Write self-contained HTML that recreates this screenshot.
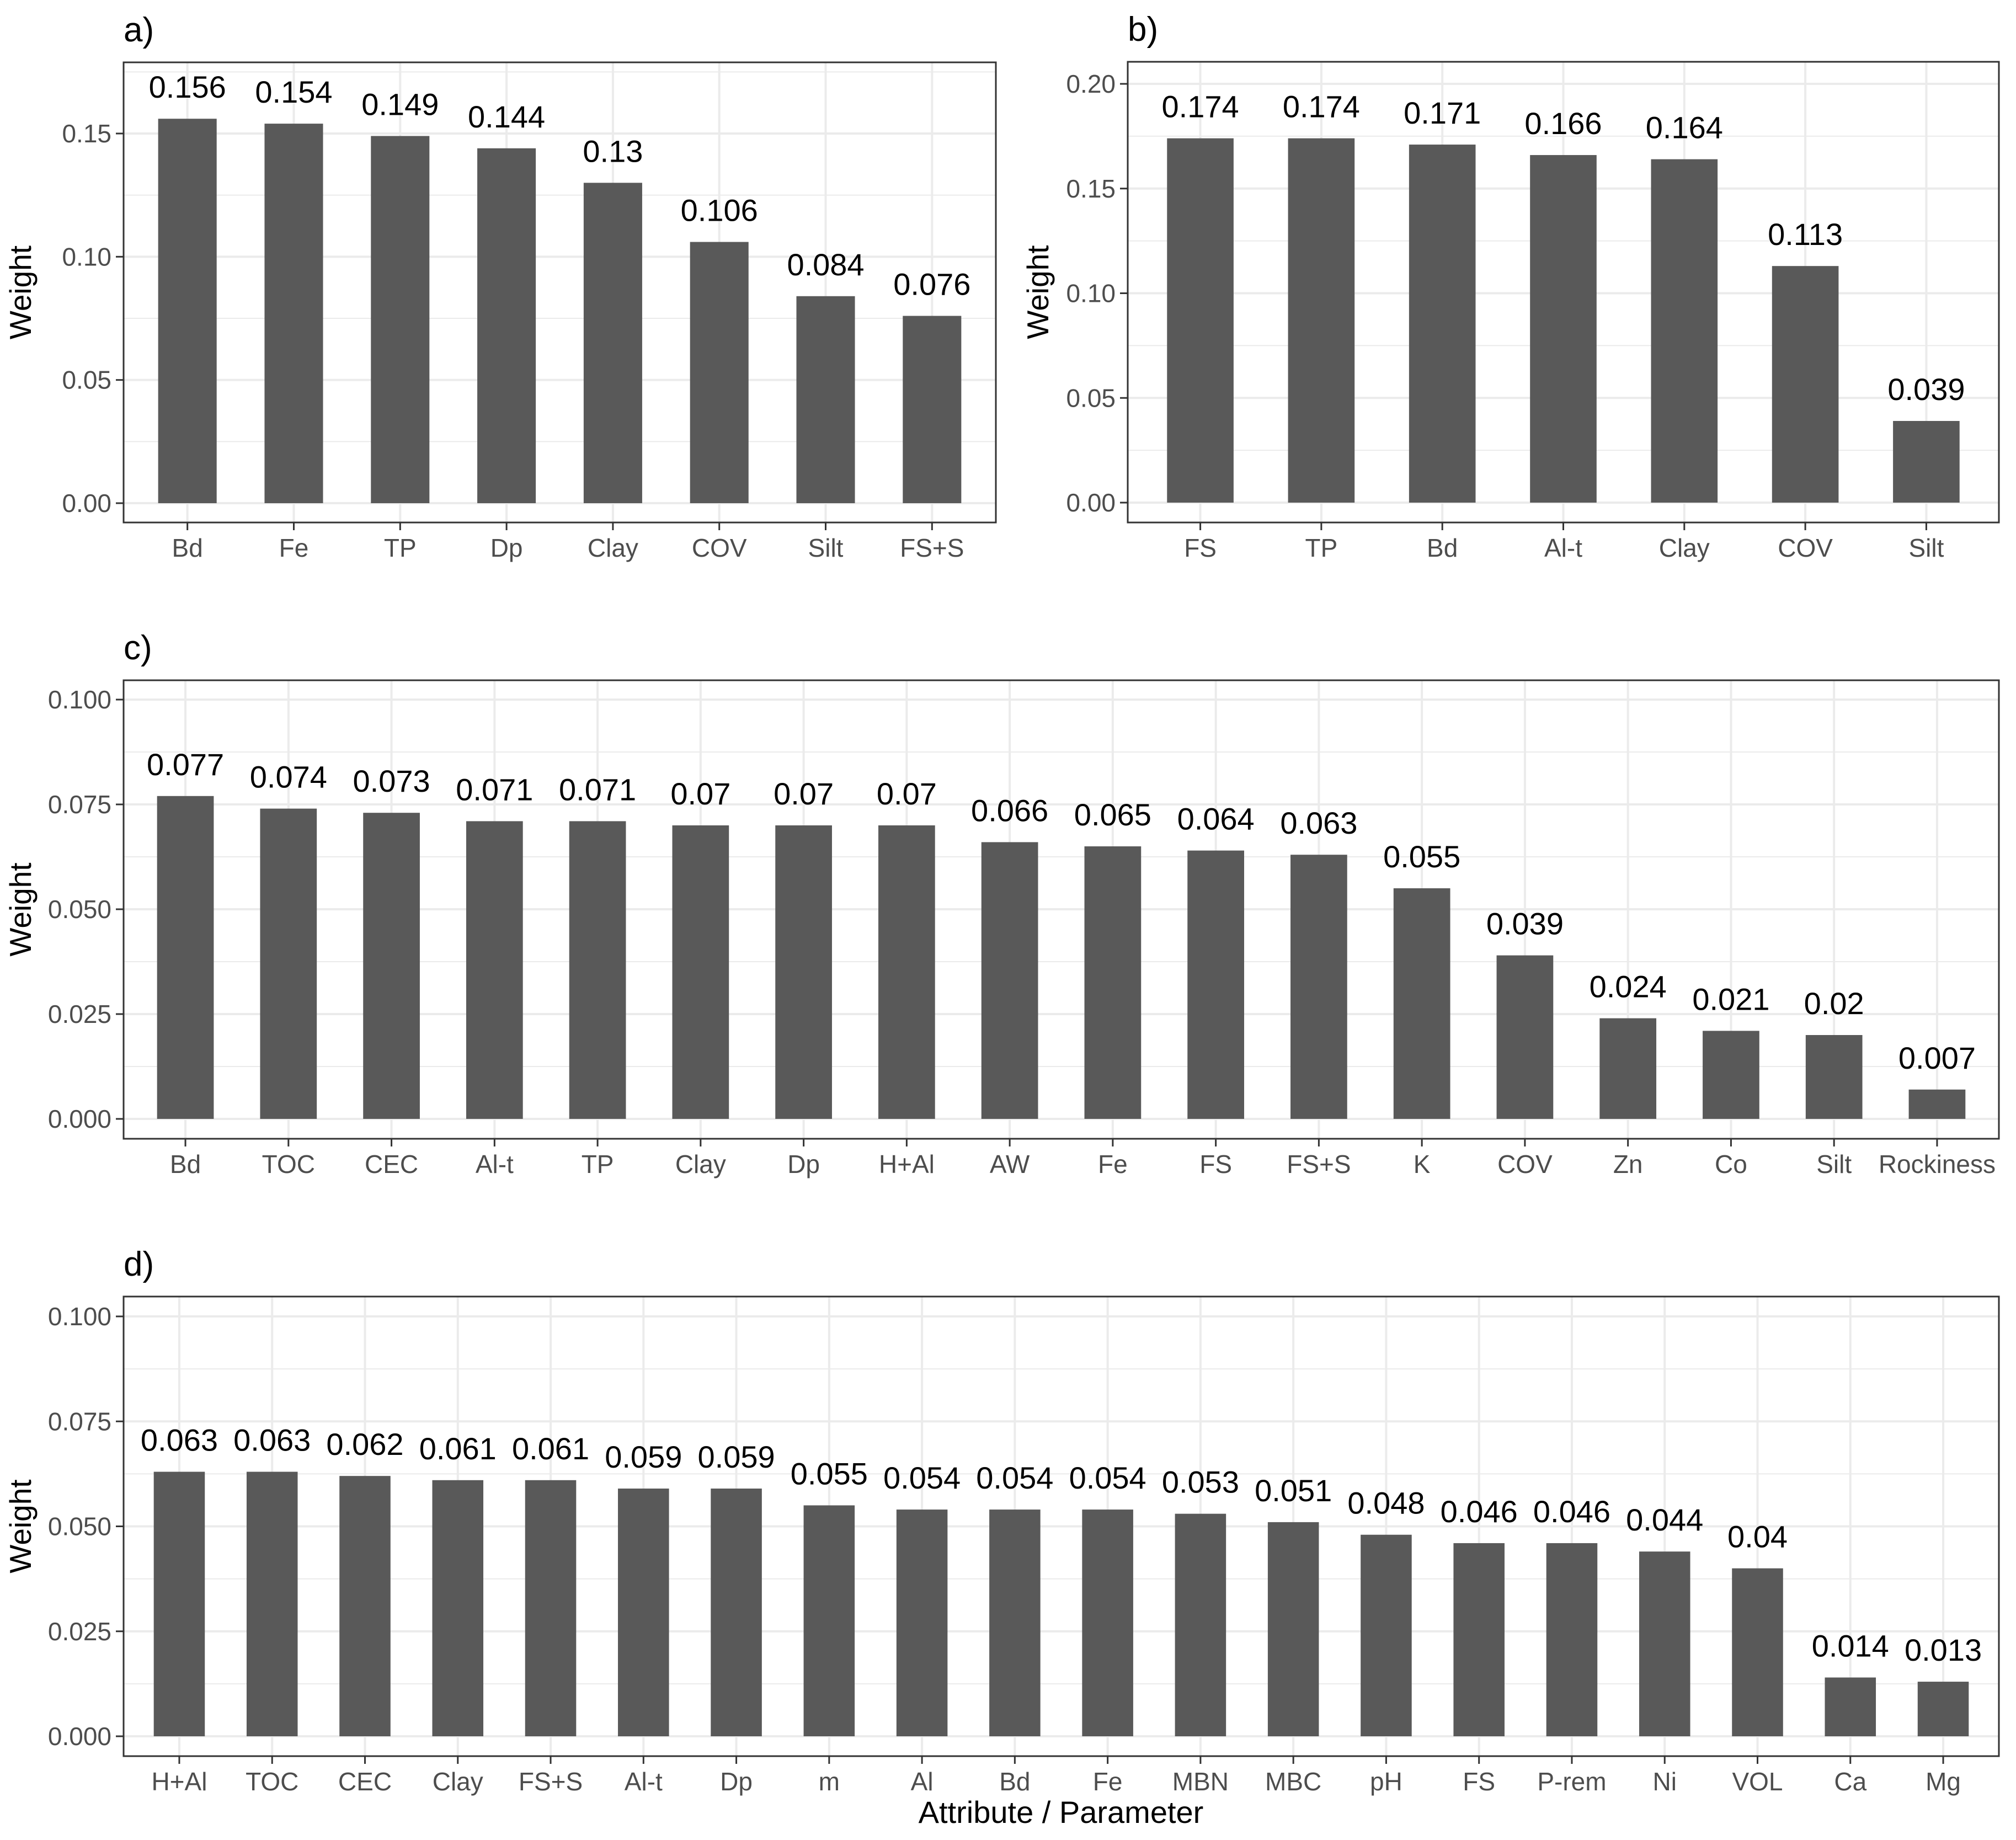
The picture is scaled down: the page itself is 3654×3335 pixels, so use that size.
<!DOCTYPE html>
<html><head><meta charset="utf-8"><style>
html,body{margin:0;padding:0;background:#fff;}
svg{display:block;font-family:"Liberation Sans",Arial,sans-serif;}
</style></head><body>
<svg id="fig" width="3654" height="3335" viewBox="0 0 3654 3335" xmlns="http://www.w3.org/2000/svg">
<rect width="3654" height="3335" fill="#fff"/>
<text x="1923" y="3304" font-size="56" text-anchor="middle" fill="#000">Attribute / Parameter</text>
</svg>
<script>
const catsA = ["Bd","Fe","TP","Dp","Clay","COV","Silt","FS+S"];
const valsA = [0.156,0.154,0.149,0.144,0.13,0.106,0.084,0.076];
const labsA = ["0.156","0.154","0.149","0.144","0.13","0.106","0.084","0.076"];
const ticksA = [0,0.05,0.10,0.15];
const tickLabsA = ["0.00","0.05","0.10","0.15"];

const catsB = ["FS","TP","Bd","Al-t","Clay","COV","Silt"];
const valsB = [0.174,0.174,0.171,0.166,0.164,0.113,0.039];
const labsB = ["0.174","0.174","0.171","0.166","0.164","0.113","0.039"];
const ticksB = [0,0.05,0.10,0.15,0.20];
const tickLabsB = ["0.00","0.05","0.10","0.15","0.20"];

const catsC = ["Bd","TOC","CEC","Al-t","TP","Clay","Dp","H+Al","AW","Fe","FS","FS+S","K","COV","Zn","Co","Silt","Rockiness"];
const valsC = [0.077,0.074,0.073,0.071,0.071,0.07,0.07,0.07,0.066,0.065,0.064,0.063,0.055,0.039,0.024,0.021,0.02,0.007];
const labsC = ["0.077","0.074","0.073","0.071","0.071","0.07","0.07","0.07","0.066","0.065","0.064","0.063","0.055","0.039","0.024","0.021","0.02","0.007"];
const ticksC = [0,0.025,0.05,0.075,0.1];
const tickLabsC = ["0.000","0.025","0.050","0.075","0.100"];

const catsD = ["H+Al","TOC","CEC","Clay","FS+S","Al-t","Dp","m","Al","Bd","Fe","MBN","MBC","pH","FS","P-rem","Ni","VOL","Ca","Mg"];
const valsD = [0.063,0.063,0.062,0.061,0.061,0.059,0.059,0.055,0.054,0.054,0.054,0.053,0.051,0.048,0.046,0.046,0.044,0.04,0.014,0.013];
const labsD = ["0.063","0.063","0.062","0.061","0.061","0.059","0.059","0.055","0.054","0.054","0.054","0.053","0.051","0.048","0.046","0.046","0.044","0.04","0.014","0.013"];
const ticksD = [0,0.025,0.05,0.075,0.1];
const tickLabsD = ["0.000","0.025","0.050","0.075","0.100"];

const NS = "http://www.w3.org/2000/svg";
const svg = document.getElementById("fig");
function mk(tag, attrs, parent){
  const e = document.createElementNS(NS, tag);
  for (const k in attrs) e.setAttribute(k, attrs[k]);
  (parent||svg).appendChild(e);
  return e;
}

function panel(o){
  const g = mk("g", {});
  
  
  const n = o.cats.length;
  const step = (o.right - o.left) / (n - 1 + 1.2);
  const xs = i => o.left + step * (0.6 + i);
  const ys = v => o.y0 + (o.yRef - o.y0) * v / o.refVal;
  for (let i = 0; i < o.ticks.length - 1; i++) {
    const yv = (o.ticks[i] + o.ticks[i+1]) / 2;
    const l = mk("line", {x1:o.left, x2:o.right, y1:ys(yv), y2:ys(yv), stroke:"#ebebeb", "stroke-width":2}, g);
    
    
  }
  const topMinor = o.ticks[o.ticks.length-1] + (o.ticks[1]-o.ticks[0])/2;
  if (ys(topMinor) > o.top) {
    mk("line", {x1:o.left, x2:o.right, y1:ys(topMinor), y2:ys(topMinor), stroke:"#ebebeb", "stroke-width":2}, g);
  }
  o.ticks.forEach(t => {
    const l = mk("line", {x1:o.left, x2:o.right, y1:ys(t), y2:ys(t), stroke:"#ebebeb", "stroke-width":4}, g);
    
    
  });
  o.cats.forEach((c, i) => {
    mk("line", {x1:xs(i), x2:xs(i), y1:o.top, y2:o.bottom, stroke:"#ebebeb", "stroke-width":4}, g);
  });
  const bw = step * 0.55;
  o.vals.forEach((v, i) => {
    const r = mk("rect", {x:xs(i)-bw/2, y:ys(v), width:bw, height:o.y0 - ys(v), fill:"#595959"}, g);
    
    
    const t = mk("text", {x:xs(i), y:ys(v) - 38, "font-size":56, "text-anchor":"middle", fill:"#000"}, g);
    t.textContent = o.labs[i];
    
    
    const tk = mk("line", {x1:xs(i), x2:xs(i), y1:o.bottom, y2:o.bottom+14, stroke:"#333", "stroke-width":3}, g);
    
    
    const xl = mk("text", {x:xs(i), y:o.bottom+62, "font-size":46, "text-anchor":"middle", fill:"#4d4d4d"}, g);
    xl.textContent = o.cats[i];
    
    
  });
  o.ticks.forEach((t, i) => {
    const tk = mk("line", {x1:o.left-14, x2:o.left, y1:ys(t), y2:ys(t), stroke:"#333", "stroke-width":3}, g);
    
    
    const yl = mk("text", {x:o.left-22, y:ys(t)+16, "font-size":46, "text-anchor":"end", fill:"#4d4d4d"}, g);
    yl.textContent = o.tickLabs[i];
    
    
  });
  const b = mk("rect", {x:o.left, y:o.top, width:o.right-o.left, height:o.bottom-o.top, fill:"none", stroke:"#333", "stroke-width":3}, g);
  
  
  const cy = (o.top + o.bottom) / 2;
  const yt = mk("text", {x:o.ylabX, y:cy, "font-size":55, "text-anchor":"middle", fill:"#000", transform:`rotate(-90 ${o.ylabX} ${cy})`}, g);
  yt.textContent = "Weight";
  
  
  const tt = mk("text", {x:o.left, y:o.top-38, "font-size":62, fill:"#000"}, g);
  tt.textContent = o.title;
  
  
}

panel({name:"panel-a", title:"a)", cats:catsA, vals:valsA, labs:labsA, ticks:ticksA, tickLabs:tickLabsA,
  left:224, right:1805, top:113, bottom:947, y0:912, yRef:242, refVal:0.15, ylabX:56});
panel({name:"panel-b", title:"b)", cats:catsB, vals:valsB, labs:labsB, ticks:ticksB, tickLabs:tickLabsB,
  left:2044, right:3623, top:112, bottom:947, y0:911, yRef:152, refVal:0.2, ylabX:1900});
panel({name:"panel-c", title:"c)", cats:catsC, vals:valsC, labs:labsC, ticks:ticksC, tickLabs:tickLabsC,
  left:224, right:3623, top:1233, bottom:2064, y0:2028, yRef:1268, refVal:0.1, ylabX:56});
panel({name:"panel-d", title:"d)", cats:catsD, vals:valsD, labs:labsD, ticks:ticksD, tickLabs:tickLabsD,
  left:224, right:3623, top:2350, bottom:3183, y0:3147, yRef:2386, refVal:0.1, ylabX:56});
</script>
</body></html>
